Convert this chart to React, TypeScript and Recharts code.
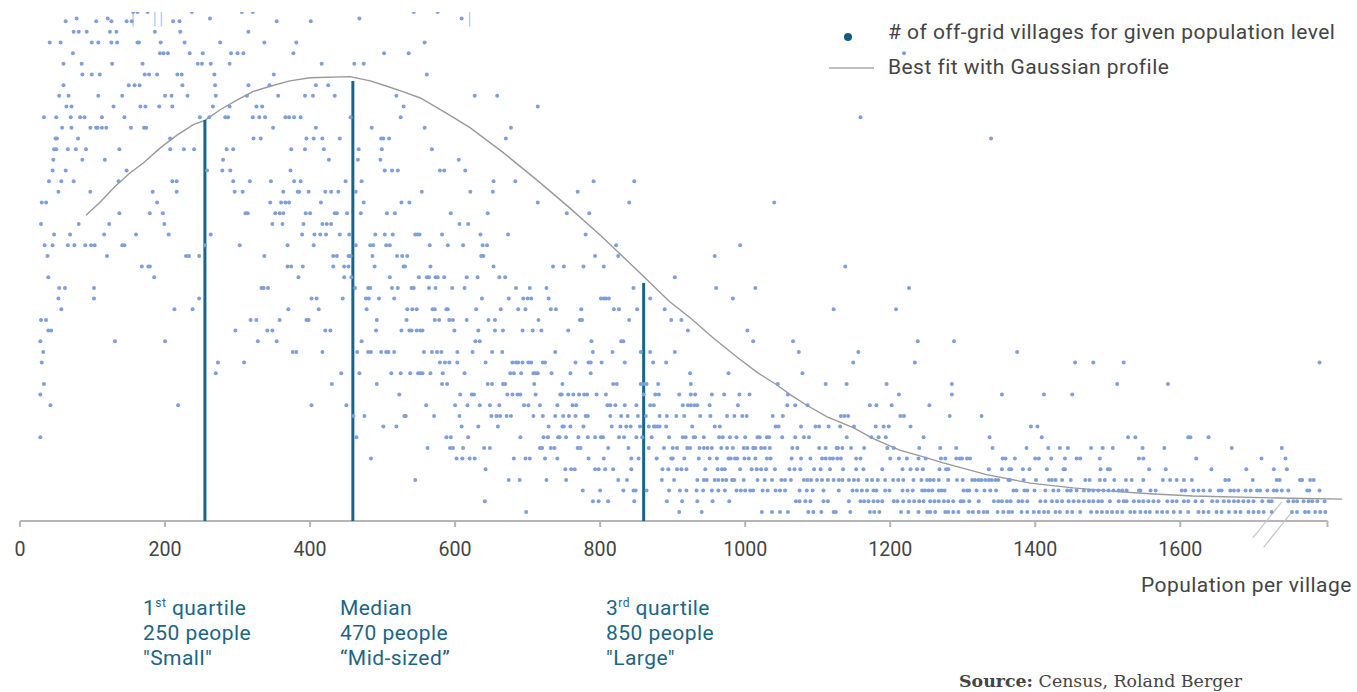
import React from "react";
import { ComposedChart, Scatter, Line, XAxis, YAxis, ReferenceLine, Legend } from "recharts";

// Villages: for each count level (row), the populations at which a dot is seen.
const row01 = [698,909,940,1023,1037,1048,1059,1087,1094,1105,1122,1125,1145,1172,1178,1185,1215,1225,1239,1251,1255,1262,1276,1280,1287,1294,1308,1314,1322,1329,1334,1348,1356,1363,1368,1381,1389,1398,1405,1412,1418,1428,1434,1444,1451,1462,1477,1485,1492,1499,1506,1513,1520,1531,1537,1545,1552,1558,1568,1575,1582,1591,1600,1611,1625,1632,1639,1650,1657,1667,1676,1683,1694,1701,1708,1715,1726,1754,1761,1772,1777,1786,1793,1800];
const row02 = [641,790,798,811,847,892,913,934,955,978,1070,1075,1083,1090,1108,1114,1143,1159,1164,1170,1177,1183,1189,1205,1210,1218,1226,1233,1240,1246,1255,1261,1267,1274,1280,1287,1297,1301,1309,1322,1343,1349,1354,1361,1366,1377,1382,1389,1407,1414,1423,1430,1437,1446,1453,1460,1467,1474,1480,1487,1492,1503,1515,1522,1526,1536,1543,1549,1556,1563,1570,1582,1589,1595,1605,1611,1621,1630,1644,1651,1660,1667,1674,1680,1687,1694,1701,1713,1722,1726,1749,1756,1761,1770,1777,1782,1789,1799];
const row03 = [776,800,832,846,849,864,895,910,919,933,942,954,963,972,988,994,1000,1007,1011,1024,1031,1042,1048,1055,1075,1085,1093,1108,1129,1148,1154,1161,1168,1177,1181,1193,1199,1217,1224,1231,1244,1248,1253,1258,1267,1271,1275,1301,1306,1309,1319,1330,1338,1346,1370,1374,1385,1389,1399,1414,1425,1432,1444,1449,1457,1467,1474,1480,1487,1494,1501,1508,1515,1520,1526,1543,1545,1559,1566,1602,1607,1618,1625,1632,1641,1653,1657,1669,1674,1680,1690,1697,1706,1710,1720,1729,1733,1740,1749,1775,1778,1792];
const row04 = [545,674,689,726,753,825,837,885,902,934,943,947,958,963,969,974,982,985,998,1017,1027,1037,1050,1055,1063,1081,1086,1091,1099,1106,1114,1122,1129,1134,1143,1150,1156,1168,1175,1183,1193,1204,1211,1218,1232,1243,1251,1255,1260,1267,1280,1292,1300,1313,1317,1322,1326,1331,1336,1340,1345,1349,1363,1365,1384,1401,1419,1423,1428,1437,1449,1469,1475,1489,1496,1509,1525,1533,1549,1576,1586,1595,1605,1616,1662,1667,1700,1733,1737,1765,1768,1779,1784];
const row05 = [642,752,760,765,793,798,807,818,843,886,894,906,912,919,945,962,968,972,993,1009,1016,1022,1029,1041,1061,1068,1076,1095,1104,1117,1135,1153,1163,1189,1217,1228,1237,1245,1268,1277,1280,1336,1354,1364,1367,1383,1392,1416,1439,1441,1490,1500,1503,1557,1580,1643,1691,1729,1747];
const row06 = [484,602,610,620,627,681,697,703,724,741,784,805,843,853,878,898,900,916,936,951,961,977,980,986,989,999,1005,1014,1030,1035,1064,1077,1090,1106,1111,1117,1121,1127,1132,1153,1159,1200,1212,1223,1239,1249,1270,1276,1291,1296,1299,1306,1310,1355,1359,1372,1400,1405,1422,1441,1457,1462,1489,1543,1549,1622,1712,1745];
const row07 = [562,593,597,611,640,648,717,720,732,737,769,773,811,839,867,888,900,906,920,924,937,943,948,954,967,975,983,998,1003,1011,1014,1022,1027,1034,1065,1072,1102,1111,1126,1128,1134,1146,1164,1196,1205,1240,1269,1291,1341,1388,1418,1434,1445,1477,1493,1507,1548,1578,1671,1740];
const row08 = [28,464,588,594,618,690,722,728,742,744,753,770,783,793,801,804,826,833,850,858,871,895,914,918,929,931,943,964,969,979,988,1000,1017,1020,1030,1033,1051,1069,1081,1088,1140,1174,1184,1194,1246,1337,1409,1528,1538,1611,1614,1639];
const row09 = [501,519,609,632,659,729,748,750,759,777,816,828,836,842,855,867,874,876,879,882,891,927,958,965,1042,1046,1077,1097,1102,1115,1131,1150,1180,1191,1198,1228,1394,1403];
const row10 = [460,475,530,532,571,606,650,657,662,671,677,708,721,738,749,757,766,780,783,814,829,838,852,863,882,892,905,916,938,952,975,985,996,1002,1038,1052,1132,1137,1142,1214,1219,1282,1326];
const row11 = [42,218,402,450,560,600,617,634,648,661,695,701,717,741,762,767,810,814,821,834,850,869,874,914,921,925,930,934,951,990,1058,1069,1086,1172,1181,1202,1254];
const row12 = [28,523,607,623,626,672,679,686,690,711,745,747,756,763,771,778,782,795,808,860,876,881,909,925,931,954,971,992,1006,1059,1212,1285,1354,1412,1451];
const row13 = [33,430,492,582,589,645,651,666,669,709,748,818,823,856,860,864,880,925,1045,1111,1140,1195,1285,1513,1583];
const row14 = [270,443,468,512,525,538,549,552,555,566,583,613,676,681,691,708,711,714,733,759,787,924,977,1079];
const row15 = [30,273,309,579,586,592,603,642,679,684,687,693,701,705,721,724,766,784,787,802,834,873,891,1149,1234,1455,1480,1522,1792];
const row16 = [32,376,381,417,465,480,484,498,505,508,516,557,568,575,581,603,624,651,665,738,790,817,856,869,903,1074,1156,1375];
const row17 = [28,131,200,328,354,471,628,634,788,829,832,1011,1066,1238,1288];
const row18 = [39,43,297,341,348,421,428,491,526,537,540,547,552,555,599,632,655,666,693,707,719,756,921,1003];
const row19 = [29,36,318,326,358,395,398,492,533,572,578,592,597,616,646,655,715,772,775,840,898,912];
const row20 = [57,213,238,370,412,478,534,541,547,569,572,588,590,629,663,687,697,732,739,774,819,826,851,889,1122,1208];
const row21 = [53,102,247,402,409,445,477,481,495,516,637,674,694,700,705,729,801,805,808,812,869,983];
const row22 = [54,62,102,333,336,342,462,480,483,513,521,540,543,564,573,596,613,684,703,726,846,960,1014,1226];
const row23 = [39,185,384,447,457,510,550,561,564,573,576,585,616,631,661,669,903];
const row24 = [168,177,179,369,374,390,432,447,453,489,529,531,566,653,735,750,777,805,1138];
const row25 = [38,120,229,233,247,337,432,437,453,456,486,520,527,534,636,639,793,825,958];
const row26 = [34,45,66,75,90,98,103,141,144,255,303,369,405,463,483,487,505,510,565,590,611,638,644,822,993];
const row27 = [47,69,116,160,205,263,389,406,414,422,441,454,490,503,514,545,548,551,582,635,673,780];
const row28 = [29,81,123,199,348,362,391,417,423,429,606,618];
const row29 = [137,179,197,311,314,352,358,363,394,400,434,437,451,470,506,517,594,645,754,785];
const row30 = [30,36,189,345,360,366,371,415,474,526,537,714,840,1040];
const row31 = [53,97,183,216,296,307,363,383,385,398,421,429,439,463,554,621,652,769];
const row32 = [40,57,74,136,210,216,294,317,346,378,387,449,471,653,683,791,847];
const row33 = [45,63,147,258,279,290,373,503,513,521,579,585,614];
const row34 = [46,86,117,280,426,466,497,605];
const row35 = [47,50,66,77,91,137,207,226,240,285,294,374,393,419,467,499,568];
const row36 = [49,51,80,207,322,332,395,405,417,441,498,501,509,670,1339];
const row37 = [58,71,97,105,107,113,119,153,171,174,349,408,485,558,677];
const row38 = [33,50,70,83,89,113,144,248,261,283,287,321,330,338,366,371,378,387,456,525,1159];
const row39 = [64,71,129,166,173,192,210,266,289,326,334,529,714];
const row40 = [54,67,108,141,200,209,231,270,313,356,393,404,434,519,627,658];
const row41 = [60,150,158,165,224,269,315,344,408,425];
const row42 = [86,99,110,172,178,189,217,223,268,350,561];
const row43 = [60,85,127,169,245,251,263,289,416,461,474];
const row44 = [73,193,198,204,234,252,291,300,308,377,502,536,1219];
const row45 = [41,56,99,108,126,134,162,164,194,227,276,337,381,558];
const row46 = [74,81,92,124,133,186,221,315];
const row47 = [63,105,126,147,154,211,220,354,401];
const rowUpper = [78,121,262,468,609];
const row48 = [156,162,176,237,306,321,543,576];

const countRows = [row01,row02,row03,row04,row05,row06,row07,row08,row09,row10,row11,row12,row13,row14,row15,row16,row17,row18,row19,row20,row21,row22,row23,row24,row25,row26,row27,row28,row29,row30,row31,row32,row33,row34,row35,row36,row37,row38,row39,row40,row41,row42,row43,row44,row45,row46,row47];
const villages = [
  ...countRows.flatMap((xs, i) => xs.map((x) => ({ x, y: i + 1 }))),
  ...rowUpper.map((x) => ({ x, y: 47.25 })),
  ...row48.map((x) => ({ x, y: 47.85 })),
];

const curvePopulation = [91,110,131,152,170,193,216,239,255,276,299,321,345,372,400,455,483,506,528,552,575,597,621,666,713,758,804,855,896,924,956,989,1016,1044,1062,1085,1113,1149,1176,1213,1241,1273,1333,1393,1452,1513,1558,1617,1735,1823];
const curveLevel = [28.8,30.0,31.5,32.8,33.7,35.1,36.3,37.3,37.7,38.7,39.6,40.4,40.9,41.4,41.7,41.8,41.4,40.9,40.4,39.8,38.9,38.0,37.0,34.7,32.1,29.5,26.7,23.4,20.7,19.2,17.3,15.5,14.1,12.9,12.0,11.0,9.9,8.9,7.9,6.8,6.25,5.6,4.5,3.7,3.25,2.9,2.7,2.5,2.3,2.2];
const curve = curvePopulation.map((x, i) => ({ x, y: curveLevel[i] }));

const quartilePopulation = [255, 459, 860];
const quartileTop = [37.74, 41.39, 22.46];
const xTicks = [0, 200, 400, 600, 800, 1000, 1200, 1400, 1600, 1803];
const clippedSlivers = [156, 186, 195, 620];

const FONT = "Roboto, sans-serif";
const TEXT = "#444444";
const BLUE = "#1d6585";
const Y_MIN = 0.15;

const Dot = (p: any) => <circle cx={p.cx} cy={p.cy} r={2} fill="#7f9fd8" />;

const abs = (left: number, top: number, extra: any = {}) => ({
  position: "absolute" as const, left, top, whiteSpace: "nowrap" as const, fontFamily: FONT, fontSize: 21, letterSpacing: 0.45, color: TEXT, lineHeight: "25px", ...extra,
});

const LegendBox = () => (
  <div style={{ position: "relative", width: 1357, height: 0 }}>
    <svg style={{ position: "absolute", left: 0, top: 0 }} width={1357} height={100}>
      <circle cx={848} cy={37} r={4} fill="#125e82" />
      <line x1={829} x2={874} y1={68} y2={68} stroke="#aaaaaa" strokeWidth={1.5} />
    </svg>
    <div style={abs(888, 20)}># of off-grid villages for given population level</div>
    <div style={abs(888, 55)}>Best fit with Gaussian profile</div>
  </div>
);

const Sup = ({ children }: any) => <sup style={{ fontSize: 12, lineHeight: 0 }}>{children}</sup>;

const Note = ({ left, lines }: { left: number; lines: React.ReactNode[] }) => (
  <>
    {lines.map((line, i) => (
      <div key={i} style={abs(left, 596 + i * 25, { color: BLUE, height: 25 })}>{line}</div>
    ))}
  </>
);

export default function App() {
  return (
    <div style={{ position: "absolute", left: 0, top: 0, width: 1357, height: 692, background: "#fff", overflow: "hidden" }}>
      <ComposedChart width={1357} height={692} margin={{ top: 12, right: 15, bottom: 141, left: 20 }}>
        <XAxis
          type="number"
          dataKey="x"
          domain={[0, 1823]}
          ticks={xTicks}
          interval={0}
          height={30}
          axisLine={false}
          tickSize={6}
          tickMargin={15}
          tickLine={{ stroke: "#b5b5b5", strokeWidth: 2 }}
          tickFormatter={(v: number) => (v > 1600 ? "" : String(v))}
          tick={{ fontFamily: FONT, fontSize: 19.6, fill: TEXT }}
        />
        <YAxis type="number" dataKey="y" hide domain={[Y_MIN, 47.86]} allowDataOverflow />
        <Legend content={<LegendBox />} wrapperStyle={{ position: "absolute", left: 0, top: 0, width: 1357, height: 0, bottom: "auto" }} />
        <Scatter name="# of off-grid villages for given population level" data={villages} shape={Dot} isAnimationActive={false} />
        <Line name="Best fit with Gaussian profile" data={curve} dataKey="y" type="linear" dot={false} stroke="#999999" strokeWidth={1.4} isAnimationActive={false} />
        <ReferenceLine segment={[{ x: 0, y: Y_MIN }, { x: 1803, y: Y_MIN }]} stroke="#b5b5b5" strokeWidth={2} />
        {quartilePopulation.map((x, i) => (
          <ReferenceLine key={x} segment={[{ x, y: Y_MIN }, { x, y: quartileTop[i] }]} stroke="#1a6488" strokeWidth={3} />
        ))}
        {clippedSlivers.map((x) => (
          <ReferenceLine key={x} segment={[{ x, y: 47.85 }, { x, y: 46.5 }]} stroke="#b9cdec" strokeWidth={1.5} />
        ))}
        <ReferenceLine segment={[{ x: 1740, y: 1.94 }, { x: 1700, y: -1.44 }]} ifOverflow="visible" stroke="#c4c4c4" strokeWidth={1.2} />
        <ReferenceLine segment={[{ x: 1754, y: 1 }, { x: 1715, y: -2.3 }]} ifOverflow="visible" stroke="#c4c4c4" strokeWidth={1.2} />
      </ComposedChart>
      <div style={abs(1141, 573)}>Population per village</div>
      <Note left={143} lines={[<>1<Sup>st</Sup> quartile</>, "250 people", "\"Small\""]} />
      <Note left={340} lines={["Median", "470 people", "“Mid-sized”"]} />
      <Note left={606} lines={[<>3<Sup>rd</Sup> quartile</>, "850 people", "\"Large\""]} />
      <div style={abs(959, 669, { fontFamily: "'DejaVu Serif', serif", fontSize: 17.4, letterSpacing: 0 })}><b>Source:</b> Census, Roland Berger</div>
    </div>
  );
}
